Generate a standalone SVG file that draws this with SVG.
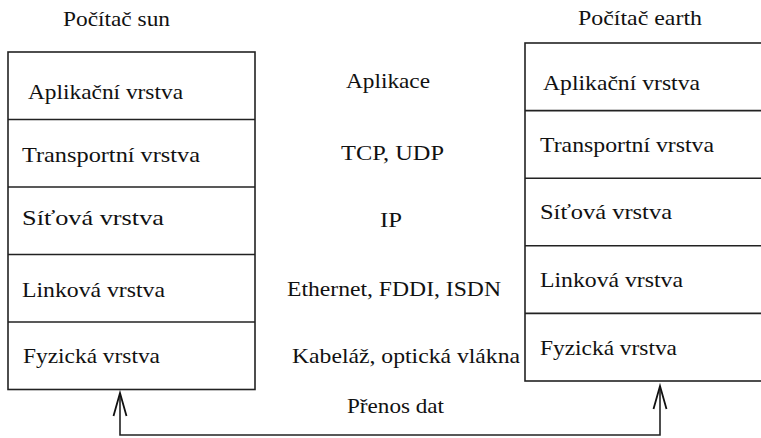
<svg xmlns="http://www.w3.org/2000/svg" width="761" height="438" viewBox="0 0 761 438">
  <style>
    text { font-family: "Liberation Serif", "DejaVu Serif", "Times New Roman", serif; font-size: 21px; fill: #111; }
    .box { fill: none; stroke: #222; stroke-width: 1.6; }
    .div { stroke: #222; stroke-width: 1.6; }
    .wire { fill: none; stroke: #222; stroke-width: 1.6; }
    .head { fill: none; stroke: #111; stroke-width: 1.8; stroke-linejoin: miter; }
  </style>

  <!-- host "sun" protocol stack -->
  <g id="host-sun">
    <text x="63" y="26" textLength="107" lengthAdjust="spacingAndGlyphs">Počítač sun</text>
    <rect class="box" x="8" y="52" width="247" height="337.5"/>
    <line class="div" x1="8" y1="119.5" x2="255" y2="119.5"/>
    <line class="div" x1="8" y1="187" x2="255" y2="187"/>
    <line class="div" x1="8" y1="254.5" x2="255" y2="254.5"/>
    <line class="div" x1="8" y1="322" x2="255" y2="322"/>
    <text x="28" y="99" textLength="155" lengthAdjust="spacingAndGlyphs">Aplikační vrstva</text>
    <text x="22" y="162" textLength="178" lengthAdjust="spacingAndGlyphs">Transportní vrstva</text>
    <text x="22" y="225" textLength="142" lengthAdjust="spacingAndGlyphs">Síťová vrstva</text>
    <text x="22" y="297" textLength="143" lengthAdjust="spacingAndGlyphs">Linková vrstva</text>
    <text x="23" y="363" textLength="137" lengthAdjust="spacingAndGlyphs">Fyzická vrstva</text>
  </g>

  <!-- host "earth" protocol stack (runs past the right edge) -->
  <g id="host-earth">
    <text x="578" y="25" textLength="124" lengthAdjust="spacingAndGlyphs">Počítač earth</text>
    <rect class="box" x="525" y="43" width="250" height="338"/>
    <line class="div" x1="525" y1="110.6" x2="761" y2="110.6"/>
    <line class="div" x1="525" y1="178.2" x2="761" y2="178.2"/>
    <line class="div" x1="525" y1="245.8" x2="761" y2="245.8"/>
    <line class="div" x1="525" y1="313.4" x2="761" y2="313.4"/>
    <text x="543" y="90" textLength="157" lengthAdjust="spacingAndGlyphs">Aplikační vrstva</text>
    <text x="540" y="152" textLength="174" lengthAdjust="spacingAndGlyphs">Transportní vrstva</text>
    <text x="540" y="219" textLength="132" lengthAdjust="spacingAndGlyphs">Síťová vrstva</text>
    <text x="540" y="287" textLength="143" lengthAdjust="spacingAndGlyphs">Linková vrstva</text>
    <text x="540" y="355" textLength="137" lengthAdjust="spacingAndGlyphs">Fyzická vrstva</text>
  </g>

  <!-- protocols used at each layer -->
  <g id="protocols">
    <text x="346" y="88" textLength="84" lengthAdjust="spacingAndGlyphs">Aplikace</text>
    <text x="341" y="160" textLength="103" lengthAdjust="spacingAndGlyphs">TCP, UDP</text>
    <text x="380" y="227" textLength="22" lengthAdjust="spacingAndGlyphs">IP</text>
    <text x="287" y="296" textLength="214" lengthAdjust="spacingAndGlyphs">Ethernet, FDDI, ISDN</text>
    <text x="292" y="363" textLength="228" lengthAdjust="spacingAndGlyphs">Kabeláž, optická vlákna</text>
  </g>

  <!-- physical data path between the hosts -->
  <g id="connectors">
    <polyline class="wire" points="120,393 120,435 660,435 660,386"/>
    <polyline class="head" points="113.5,416 120,393 126.5,416"/>
    <polyline class="head" points="653.5,409 660,386 666.5,409"/>
    <text x="347" y="413" textLength="97" lengthAdjust="spacingAndGlyphs">Přenos dat</text>
  </g>
</svg>
